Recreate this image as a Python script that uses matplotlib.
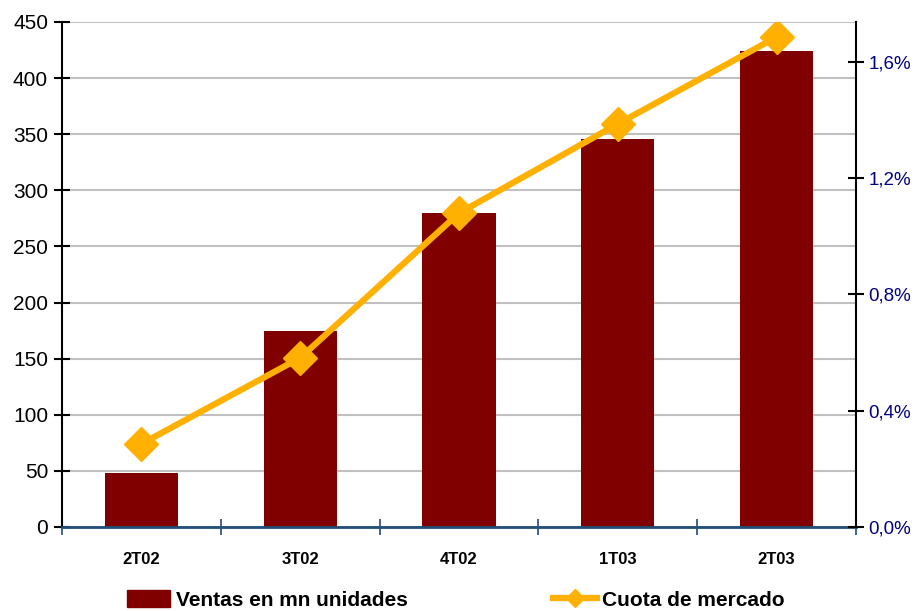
import matplotlib.pyplot as plt
from matplotlib.lines import Line2D
from matplotlib.patches import Patch
from matplotlib.ticker import FuncFormatter

categories = ['2T02', '3T02', '4T02', '1T03', '2T03']
ventas = [48, 175, 280, 346, 424]
cuota = [0.286, 0.582, 1.080, 1.387, 1.686]

plt.rcParams['font.family'] = ['Liberation Sans Narrow', 'Liberation Sans', 'DejaVu Sans']

BAR = '#800000'
LINE = '#FFB000'
NAVY = '#000080'
AXBLUE = '#1F4E79'

fig = plt.figure(figsize=(9.17, 6.11), dpi=100)
ax = fig.add_axes([0.0676, 0.1375, 0.8659, 0.8265])
x = list(range(len(categories)))
ax.bar(x, ventas, width=0.46, color=BAR, zorder=2)
ax.set_xlim(-0.5, 4.5)
ax.set_ylim(0, 450)
ax.set_yticks(range(0, 451, 50))
ax.grid(axis='y', color='#C0C0C0', linewidth=1.5, zorder=0)
ax.set_xticks([i - 0.5 for i in range(6)])
ax.set_xticklabels([])
ax.set_xticks(x, minor=True)
ax.set_xticklabels(categories, minor=True, fontsize=12, fontweight='bold')
ax.tick_params(axis='x', which='minor', length=0, pad=18)
ax.tick_params(axis='x', which='major', direction='inout', length=12, width=1.2, color=AXBLUE)
ax.tick_params(axis='y', direction='inout', length=12, width=1.5, labelsize=15, pad=4)
ax.spines['top'].set_visible(False)
ax.spines['right'].set_visible(False)
ax.spines['left'].set_linewidth(1.5)
ax.spines['bottom'].set_color(AXBLUE)
ax.spines['bottom'].set_linewidth(2)
ax.spines['bottom'].set_zorder(3)

ax2 = ax.twinx()
ax2.plot(x, cuota, color=LINE, linewidth=4.5, marker='D', markersize=17, zorder=4)
ax2.set_ylim(0, 1.7376)
ax2.set_yticks([0, 0.4, 0.8, 1.2, 1.6])
ax2.yaxis.set_major_formatter(FuncFormatter(lambda v, p: ('%.1f%%' % v).replace('.', ',')))
ax2.tick_params(axis='y', direction='inout', length=12, width=1.5, labelsize=13.5, labelcolor=NAVY, pad=3)
for s in ['top', 'left', 'bottom']:
    ax2.spines[s].set_visible(False)
ax2.spines['right'].set_linewidth(1.5)

handles = [Patch(color=BAR), Line2D([], [], color=LINE, linewidth=4.5, marker='D', markersize=9)]
fig.legend(handles, ['Ventas en mn unidades', 'Cuota de mercado'], loc='center',
           bbox_to_anchor=(0.497, 0.018), ncol=2, frameon=False, handlelength=2.1,
           handleheight=0.9, columnspacing=7, prop={'size': 15, 'weight': 'bold'},
           handletextpad=0.25)

fig.savefig('out.png', dpi=100)
